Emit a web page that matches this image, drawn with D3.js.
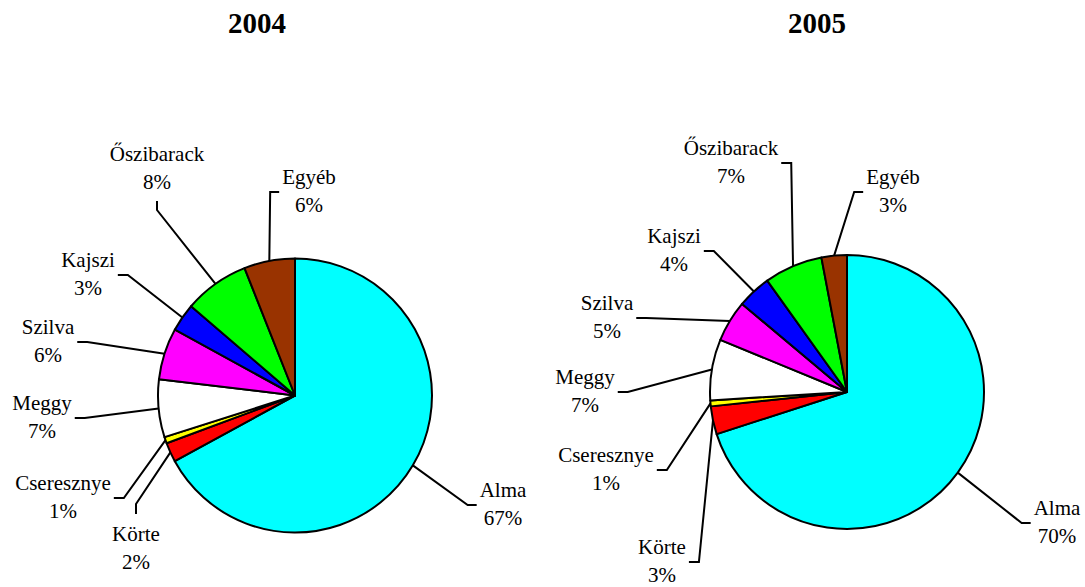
<!DOCTYPE html>
<html lang="en">
    <head>
        <meta charset="utf-8">
        <title>Gyümölcsfajok megoszlása</title>
        <script src="https://d3js.org/d3.v7.min.js"></script>
        <style>
            body { margin: 0; background: #fff; }
        </style>
    </head>
    <body>
        <script type="text/javascript">
            // data
            var categories = ["Alma", "Körte", "Cseresznye", "Meggy", "Szilva", "Kajszi", "Őszibarack", "Egyéb"];
            var colors = ["#00ffff", "#ff0000", "#ffff00", "#ffffff", "#ff00ff", "#0000ff", "#00ff00", "#993300"];
            var years = ["2004", "2005"];
            var values2004 = [67.0, 2.3, 0.75, 6.8, 6.1, 3.3, 7.7, 6.0];
            var values2005 = [70.1, 3.3, 0.7, 7.2, 4.9, 4.0, 6.9, 3.0];

            // layout: pie centres, title x, and label anchors [centre x, first baseline, stub side]
            var width = 1085, height = 587, radius = 137;
            var font = "'Liberation Serif', 'Times New Roman', serif";
            var pies = [
                {year: years[0], values: values2004, cx: 295, cy: 395.5, titleX: 257,
                 labels: [[503, 497, "left"], [136, 541, "top"], [63, 490, "right"], [42, 410, "right"],
                          [48, 334, "right"], [88, 267, "right"], [157, 161, "bottom"], [309, 184, "left"]]},
                {year: years[1], values: values2005, cx: 847, cy: 392, titleX: 817,
                 labels: [[1057, 515, "left"], [662, 554, "right"], [606, 462, "right"], [585, 384, "right"],
                          [607, 310, "right"], [674, 243, "right"], [731, 155, "right"], [893, 184, "left"]]}
            ];
            var lineH = 28;

            var svg = d3.select("body")
                        .append("svg")
                        .attr("width", width)
                        .attr("height", height);

            var pie = d3.pie().sort(null).value(function(d) { return d; });
            var arc = d3.arc().innerRadius(0).outerRadius(radius);
            var edge = d3.arc().innerRadius(radius).outerRadius(radius);
            var pct = d3.format(".0%");

            pies.forEach(function(p) {
                var total = d3.sum(p.values);
                var slices = pie(p.values);

                // title
                svg.append("text")
                   .attr("x", p.titleX)
                   .attr("y", 33)
                   .attr("text-anchor", "middle")
                   .attr("font-family", font)
                   .attr("font-size", 29)
                   .attr("font-weight", "bold")
                   .text(p.year);

                var g = svg.append("g")
                           .attr("transform", "translate(" + p.cx + "," + p.cy + ")");

                g.selectAll("path")
                 .data(slices)
                 .enter()
                 .append("path")
                 .attr("d", arc)
                 .style("fill", function(d, i) { return colors[i]; })
                 .style("stroke", "#000")
                 .style("stroke-width", 2)
                 .style("stroke-linejoin", "round");

                // labels with leader lines
                slices.forEach(function(d, i) {
                    var lab = p.labels[i];
                    var t = svg.append("text")
                               .attr("text-anchor", "middle")
                               .attr("font-family", font)
                               .attr("font-size", 21);
                    t.append("tspan").attr("x", lab[0]).attr("y", lab[1]).text(categories[i]);
                    t.append("tspan").attr("x", lab[0]).attr("y", lab[1] + lineH).text(pct(d.value / total));

                    var w = d3.max(t.selectAll("tspan").nodes(), function(n) { return n.getComputedTextLength(); });
                    var a, b;
                    if (lab[2] === "right") {
                        a = [lab[0] + w / 2 + 3, lab[1] + 8];
                        b = [a[0] + 10, a[1]];
                    } else if (lab[2] === "left") {
                        a = [lab[0] - w / 2 - 3, lab[1] + 8];
                        b = [a[0] - 9, a[1]];
                    } else if (lab[2] === "bottom") {
                        a = [lab[0], lab[1] + lineH + 12];
                        b = [lab[0], a[1] + 9];
                    } else {
                        a = [lab[0], lab[1] - 27];
                        b = [lab[0], a[1] - 10];
                    }
                    var c = edge.centroid(d);
                    var pts = [a, b, [p.cx + c[0], p.cy + c[1]]];

                    svg.append("path")
                       .attr("d", d3.line()(pts))
                       .style("fill", "none")
                       .style("stroke", "#000")
                       .style("stroke-width", 2);
                });
            });
        </script>
    </body>
</html>
